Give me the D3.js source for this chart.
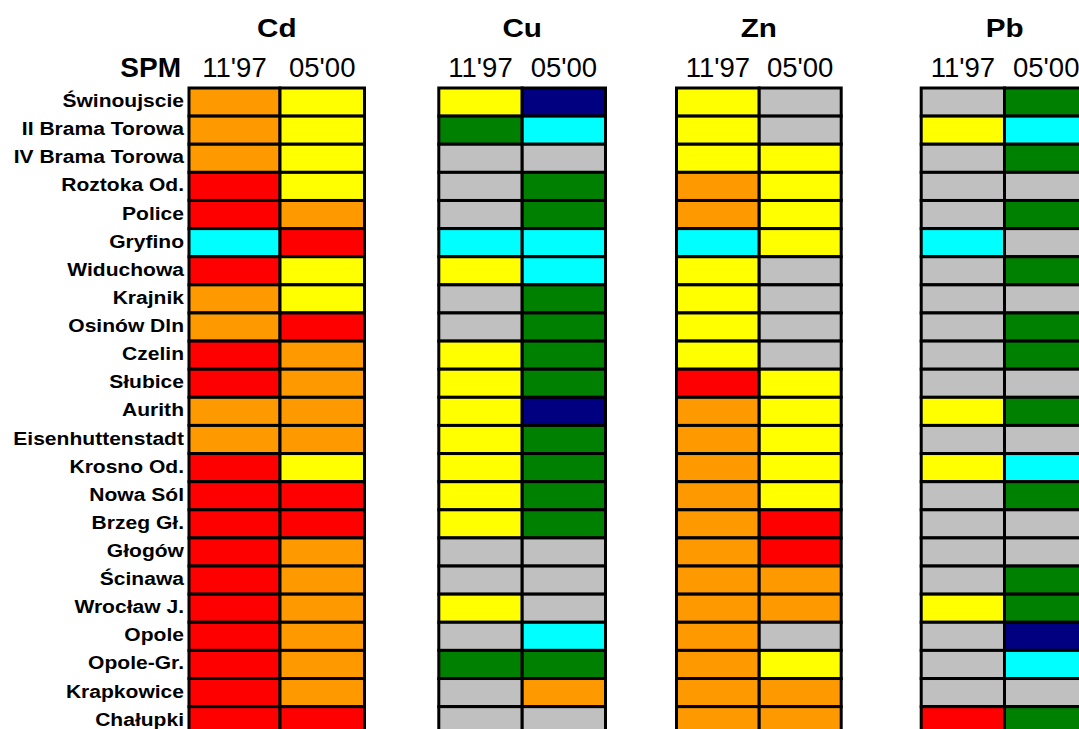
<!DOCTYPE html>
<html>
<head>
<meta charset="utf-8">
<script src="https://cdn.jsdelivr.net/npm/d3@7/dist/d3.min.js"></script>
<style>
  html, body { margin: 0; padding: 0; background: #fff; }
  svg { display: block; font-family: "Liberation Sans", Arial, sans-serif; }
</style>
</head>
<body>
<svg id="chart" width="1079" height="729"></svg>
<script>
// ---------- DATA ----------
const stations = [
  "Świnoujscie", "II Brama Torowa", "IV Brama Torowa", "Roztoka Od.", "Police",
  "Gryfino", "Widuchowa", "Krajnik", "Osinów Dln", "Czelin", "Słubice", "Aurith",
  "Eisenhuttenstadt", "Krosno Od.", "Nowa Sól", "Brzeg Gł.", "Głogów", "Ścinawa",
  "Wrocław J.", "Opole", "Opole-Gr.", "Krapkowice", "Chałupki"
];
const metals = ["Cd", "Cu", "Zn", "Pb"];
const periods = ["11'97", "05'00"];
const cornerLabel = "SPM";

// class codes: R red, O orange, Y yellow, X grey, G green, C cyan, N navy
const cd1197 = ["O","O","O","R","R","C","R","O","O","R","R","O","O","R","R","R","R","R","R","R","R","R","R"];
const cd0500 = ["Y","Y","Y","Y","O","R","Y","Y","R","O","O","O","O","Y","R","R","O","O","O","O","O","O","R"];
const cu1197 = ["Y","G","X","X","X","C","Y","X","X","Y","Y","Y","Y","Y","Y","Y","X","X","Y","X","G","X","X"];
const cu0500 = ["N","C","X","G","G","C","C","G","G","G","G","N","G","G","G","G","X","X","X","C","G","O","X"];
const zn1197 = ["Y","Y","Y","O","O","C","Y","Y","Y","Y","R","O","O","O","O","O","O","O","O","O","O","O","O"];
const zn0500 = ["X","X","Y","Y","Y","Y","X","X","X","X","Y","Y","Y","Y","Y","R","R","O","O","X","Y","O","O"];
const pb1197 = ["X","Y","X","X","X","C","X","X","X","X","X","Y","X","Y","X","X","X","X","Y","X","X","X","R"];
const pb0500 = ["G","C","G","X","G","X","G","X","G","G","X","G","X","C","G","X","X","G","G","N","C","X","G"];

const classCodes = ["R","O","Y","X","G","C","N"];
const classColors = ["#FF0000","#FF9900","#FFFF00","#C0C0C0","#008000","#00FFFF","#000080"];

const seriesByMetal = {
  Cd: [cd1197, cd0500],
  Cu: [cu1197, cu0500],
  Zn: [zn1197, zn0500],
  Pb: [pb1197, pb0500]
};

// ---------- LAYOUT ----------
const svg = d3.select("#chart");
const rowTop = 88, rowPitch = 28.12;
const groupEdges = {            // column border positions per metal group
  Cd: [189, 280, 364.5],
  Cu: [438.8, 522.2, 605.5],
  Zn: [676.5, 759.2, 841.2],
  Pb: [921.2, 1004.5, 1088]
};

const y = d3.scaleBand()
  .domain(stations)
  .range([rowTop, rowTop + rowPitch * stations.length])
  .padding(0);

const color = d3.scaleOrdinal().domain(classCodes).range(classColors);

const colScale = {};
metals.forEach(m => {
  colScale[m] = d3.scaleLinear().domain([0, 1, 2]).range(groupEdges[m]);
});

// ---------- CELLS ----------
const cells = [];
metals.forEach(m => {
  seriesByMetal[m].forEach((arr, pi) => {
    arr.forEach((code, si) => {
      cells.push({ metal: m, period: pi, station: stations[si], code });
    });
  });
});

svg.append("g").selectAll("rect")
  .data(cells)
  .join("rect")
  .attr("x", d => colScale[d.metal](d.period))
  .attr("y", d => y(d.station))
  .attr("width", d => colScale[d.metal](d.period + 1) - colScale[d.metal](d.period))
  .attr("height", y.bandwidth())
  .attr("fill", d => color(d.code))
  .attr("stroke", "#000")
  .attr("stroke-width", 3);

// ---------- TEXT ----------
svg.append("g").selectAll("text")
  .data(metals)
  .join("text")
  .attr("x", m => (colScale[m](0) + colScale[m](2)) / 2)
  .attr("y", 37.5)
  .attr("text-anchor", "middle")
  .attr("font-weight", "bold")
  .attr("font-size", 26)
  .attr("transform", m => {
    const cx = (colScale[m](0) + colScale[m](2)) / 2;
    return `translate(${cx},0) scale(1.14,1) translate(${-cx},0)`;
  })
  .text(m => m);

const periodLabels = [];
metals.forEach(m => periods.forEach((p, i) => periodLabels.push({ metal: m, i, p })));
svg.append("g").selectAll("text")
  .data(periodLabels)
  .join("text")
  .attr("x", d => (colScale[d.metal](d.i) + colScale[d.metal](d.i + 1)) / 2)
  .attr("y", 77)
  .attr("text-anchor", "middle")
  .attr("font-size", 27.5)
  .text(d => d.p);

svg.append("text")
  .attr("x", 181)
  .attr("y", 77)
  .attr("text-anchor", "end")
  .attr("font-weight", "bold")
  .attr("font-size", 28)
  .text(cornerLabel);

svg.append("g").selectAll("text")
  .data(stations)
  .join("text")
  .attr("transform", s => `translate(184,${y(s) + y.bandwidth() / 2 + 5}) scale(1.15,1)`)
  .attr("text-anchor", "end")
  .attr("font-weight", "bold")
  .attr("font-size", 18.3)
  .text(s => s);
</script>
</body>
</html>
